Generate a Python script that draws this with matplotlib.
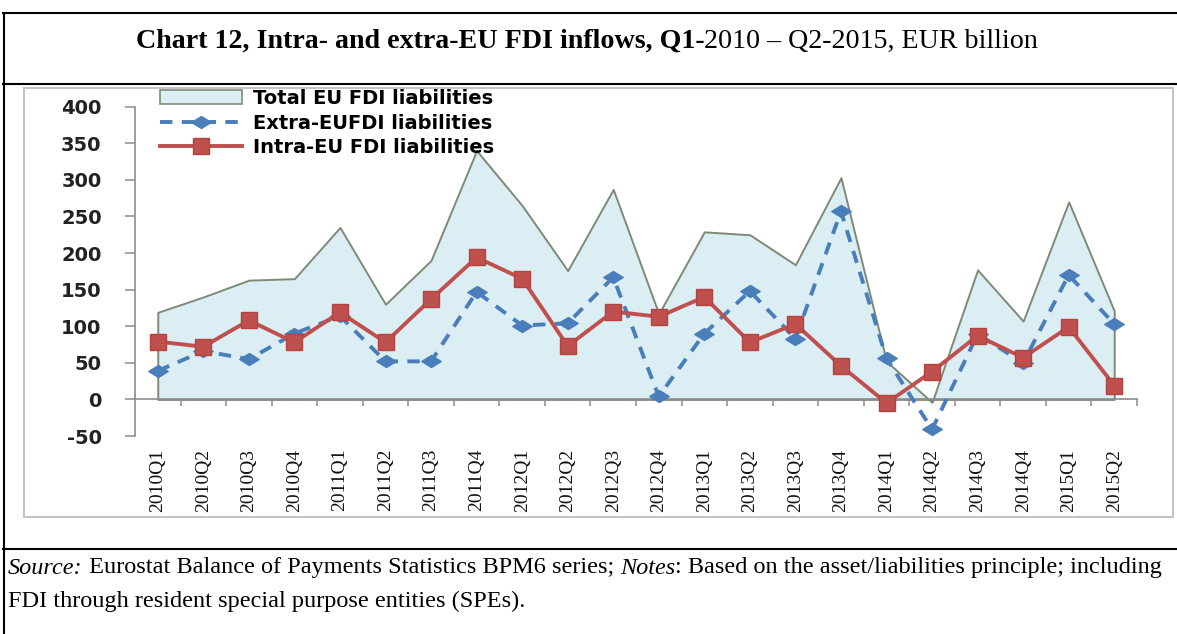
import matplotlib
matplotlib.use("Agg")
import matplotlib.pyplot as plt
from matplotlib.patches import Rectangle, Patch
from matplotlib.lines import Line2D
import numpy as np

# ---------------- data ----------------
quarters = ["2010Q1", "2010Q2", "2010Q3", "2010Q4", "2011Q1", "2011Q2", "2011Q3", "2011Q4",
            "2012Q1", "2012Q2", "2012Q3", "2012Q4", "2013Q1", "2013Q2", "2013Q3", "2013Q4",
            "2014Q1", "2014Q2", "2014Q3", "2014Q4", "2015Q1", "2015Q2"]
total_eu = [119, 140, 163, 165, 235, 130, 190, 340, 265, 176, 287, 117, 229, 225, 184, 303,
            52, -4, 177, 107, 270, 121]
extra_eu = [39, 66, 55, 90, 114, 52, 52, 147, 101, 104, 167, 4, 90, 148, 83, 257,
            56, -41, 89, 50, 170, 103]
intra_eu = [79, 72, 108, 78, 119, 78, 137, 194, 165, 73, 120, 113, 140, 78, 103, 46,
            -5, 38, 87, 57, 99, 19]
legend_labels = ["Total EU FDI liabilities", "Extra-EUFDI liabilities", "Intra-EU FDI liabilities"]
y_ticks = [-50, 0, 50, 100, 150, 200, 250, 300, 350, 400]

# ---------------- figure ----------------
W, H = 1177, 634
fig = plt.figure(figsize=(W / 100, H / 100), dpi=100)
fig.patch.set_facecolor("white")


def fx(px):
    return px / W


def fy(py):
    return 1 - py / H


# page frame lines (table borders)
for (x0, y0, x1, y1) in [(3, 13, 1177, 13), (3, 84, 1177, 84), (3, 549, 1177, 549), (4, 13, 4, 634)]:
    fig.add_artist(Line2D([fx(x0), fx(x1)], [fy(y0), fy(y1)], transform=fig.transFigure,
                          color="black", lw=1.5))

# chart image border
fig.add_artist(Rectangle((fx(24), fy(517)), fx(1173) - fx(24), fy(88) - fy(517),
                         transform=fig.transFigure, fill=False, ec="#c4c4c4", lw=1.5))

# ---------------- axes ----------------
ax = fig.add_axes([fx(135), fy(436), fx(1137) - fx(135), fy(106.7) - fy(436)])
ax.set_facecolor("none")
x = np.arange(len(quarters))

fill_col = "#dbeef4"
edge_col = "#7f8a76"
blue = "#4a7ebb"
red = "#c0504d"

ax.fill_between(x, 0, total_eu, facecolor=fill_col, edgecolor=edge_col, linewidth=1.4, zorder=1)
diamond = [(0, 0.62), (1, 0), (0, -0.62), (-1, 0), (0, 0.62)]
ax.plot(x, extra_eu, color=blue, lw=2.8, ls=(0, (3.2, 2.4)), marker=diamond, ms=14,
        mec=blue, mfc=blue, zorder=3)
ax.plot(x, intra_eu, color=red, lw=2.8, marker="s", ms=11, mec="#b4433f", mfc=red, zorder=4)

ax.set_xlim(-0.5, len(quarters) - 0.5)
ax.set_ylim(-50, 400)

axis_col = "#8c8c8c"
for s in ["top", "right"]:
    ax.spines[s].set_visible(False)
ax.spines["left"].set_color(axis_col)
ax.spines["left"].set_linewidth(1.2)
ax.spines["bottom"].set_position(("data", 0))
ax.spines["bottom"].set_color(axis_col)
ax.spines["bottom"].set_linewidth(1.2)
ax.spines["bottom"].set_zorder(2)

ax.set_yticks(y_ticks)
ax.set_yticklabels([str(v) for v in y_ticks], fontsize=14, fontweight="bold",
                   family="DejaVu Sans", color="#222222")
ax.tick_params(axis="y", direction="out", length=7, width=1.1, color=axis_col, pad=17)

ax.set_xticks([])
ax.set_xticks(np.arange(0.5, len(quarters), 1), minor=True)
ax.tick_params(axis="x", which="minor", direction="out", length=5, width=1.1,
               color=axis_col, labelbottom=False)

secax = ax.secondary_xaxis(0)
secax.set_xticks(x)
secax.set_xticklabels(quarters, rotation=90, fontsize=14, family="Liberation Serif",
                      color="#111111")
secax.tick_params(axis="x", length=0, pad=9)
secax.spines["bottom"].set_visible(False)

handles = [Patch(facecolor=fill_col, edgecolor=edge_col, linewidth=1.2),
           Line2D([], [], color=blue, lw=2.8, ls=(0, (3.2, 2.4)), marker=diamond, ms=14),
           Line2D([], [], color=red, lw=2.8, marker="s", ms=11, mfc=red, mec="#b4433f")]
fig.legend(handles, legend_labels, loc="upper left", bbox_to_anchor=(fx(160), fy(89)),
           bbox_transform=fig.transFigure, frameon=False, borderpad=0, borderaxespad=0,
           handlelength=4.2, handletextpad=0.6, labelspacing=0.29,
           prop={"family": "DejaVu Sans", "weight": "bold", "size": 14})

# ---------------- texts ----------------
renderer = fig.canvas.get_renderer()


def chain(segments, xpx, ypx, size, align="left"):
    texts = []
    for s, style in segments:
        t = fig.text(0, fy(ypx), s, fontsize=size, family="Liberation Serif", va="center",
                     color="black", **style)
        texts.append(t)
    widths = [t.get_window_extent(renderer).width for t in texts]
    tot = sum(widths)
    cur = xpx - tot / 2 if align == "center" else xpx
    for t, w in zip(texts, widths):
        t.set_x(fx(cur))
        cur += w


chain([("Chart 12, Intra- and extra-EU FDI inflows, Q1-", {"fontweight": "bold"}),
       ("2010 \u2013 Q2-2015, EUR billion", {})], 587, 41, 20.2, align="center")

chain([("Source:", {"style": "italic"}),
       (" Eurostat Balance of Payments Statistics BPM6 series; ", {}),
       ("Notes", {"style": "italic"}),
       (": Based on the asset/liabilities principle; including", {})], 8, 568, 17.5)
chain([("FDI through resident special purpose entities (SPEs).", {})], 8, 601, 17.5)

fig.savefig("out.png", dpi=100, facecolor="white")
